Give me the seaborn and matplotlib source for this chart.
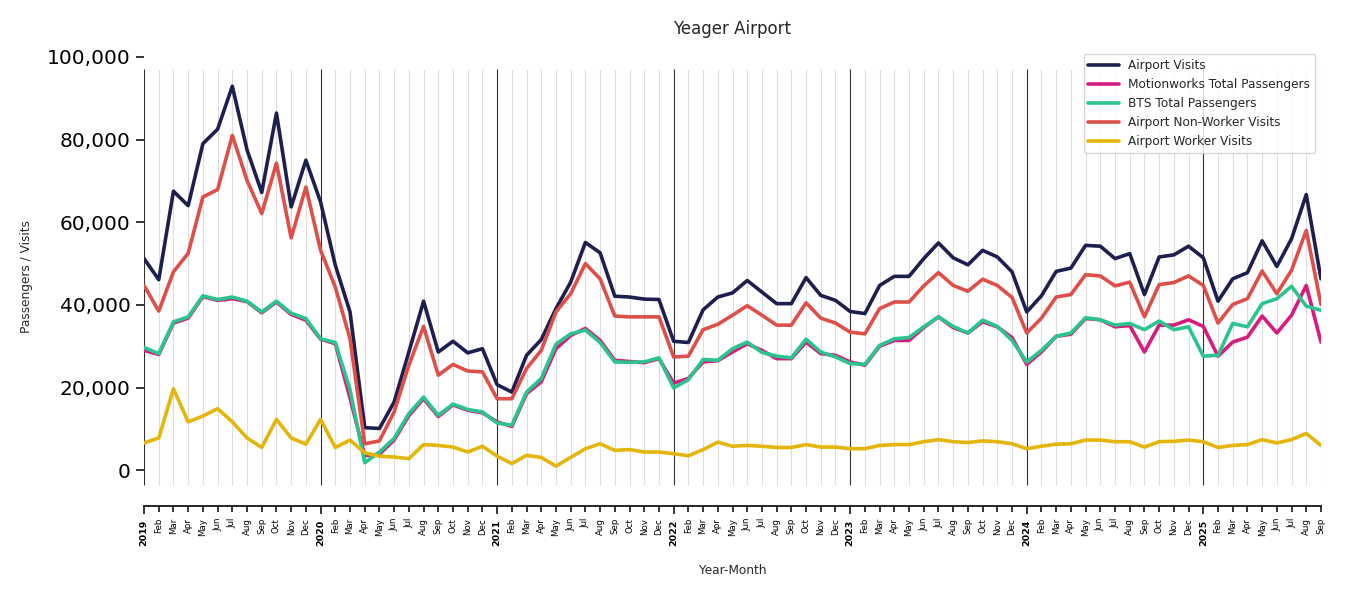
import pandas as pd
import matplotlib.pyplot as plt
import seaborn as sns
from matplotlib.ticker import FuncFormatter

sns.set_style("ticks")
plt.rcParams["font.family"] = ["DejaVu Sans"]

# 月份 (2019-01 .. 2025-09)
months = pd.date_range("2019-01-01", "2025-09-01", freq="MS")

airport_visits = [
    51200, 46100, 67500, 64000, 79000, 82500, 92900, 77500, 67200, 86400, 63700, 75000,
    64900, 49600, 38300, 10300, 10100, 16500, 28600, 40900, 28600, 31200, 28400, 29400,
    20700, 18900, 27800, 31600, 39100, 45500, 55100, 52600, 42100, 41900, 41400, 41300,
    31200, 30900, 38800, 41900, 42900, 45900, 43100, 40300, 40300, 46600, 42300, 41100,
    38400, 37900, 44700, 46900, 46900, 51200, 55000, 51400, 49700, 53200, 51600, 48000,
    38300, 42200, 48100, 48900, 54400, 54200, 51200, 52400, 42500, 51600, 52100, 54200,
    51400, 40900, 46300, 47800, 55500, 49300, 56000, 66700, 46300,
]
motionworks = [
    29000, 28000, 35600, 36800, 42000, 41100, 41500, 40800, 38100, 40700, 37700, 36300,
    31700, 30600, 17500, 3500, 3900, 7300, 13200, 17300, 13000, 15800, 14500, 13900,
    11700, 10600, 18500, 21400, 29400, 32600, 34300, 31400, 26600, 26300, 26000, 27000,
    21100, 22200, 26200, 26500, 28600, 30600, 29000, 27000, 27000, 31000, 28200, 27800,
    26200, 25400, 30000, 31400, 31400, 34500, 37100, 34500, 33200, 35900, 34700, 32100,
    25600, 28600, 32400, 32900, 36700, 36400, 34700, 35000, 28600, 35100, 35100, 36400,
    34800, 27600, 31000, 32200, 37300, 33200, 37500, 44700, 31000,
]
bts = [
    29700, 28200, 35900, 37100, 42200, 41300, 41900, 40900, 38300, 40900, 38000, 36700,
    31800, 30900, 19500, 1800, 4400, 7700, 13700, 17700, 13300, 16000, 14700, 14100,
    11400, 10900, 18900, 22200, 30500, 33000, 33900, 30900, 26200, 26100, 26200, 27200,
    19900, 21900, 26800, 26600, 29400, 31000, 28500, 27600, 27200, 31700, 28600, 27400,
    25800, 25600, 30200, 31800, 32100, 34700, 37100, 34800, 33200, 36300, 34800, 31400,
    26200, 29000, 32400, 33200, 36900, 36400, 35100, 35500, 34000, 36100, 34000, 34700,
    27600, 27800, 35500, 34700, 40300, 41500, 44500, 39700, 38700,
]
non_worker = [
    44700, 38500, 48000, 52500, 66100, 67900, 81000, 70100, 62100, 74300, 56200, 68500,
    53200, 44300, 31800, 6400, 7100, 14100, 25400, 34800, 23000, 25600, 24000, 23800,
    17300, 17300, 24600, 29000, 38300, 42700, 50000, 46300, 37300, 37100, 37100, 37100,
    27400, 27600, 34000, 35300, 37500, 39800, 37500, 35100, 35100, 40500, 36800, 35600,
    33400, 33000, 39100, 40700, 40700, 44600, 47800, 44700, 43300, 46200, 44700, 41800,
    33200, 36800, 41900, 42500, 47300, 47000, 44600, 45500, 37100, 44900, 45400, 47000,
    44700, 35600, 40100, 41500, 48200, 42700, 48400, 58000, 40100,
]
worker = [
    6600, 7800, 19700, 11700, 13100, 14900, 11700, 7800, 5500, 12300, 7800, 6300,
    12300, 5500, 7300, 4200, 3400, 3200, 2800, 6200, 6000, 5600, 4400, 5800,
    3400, 1600, 3600, 3100, 1000, 3100, 5200, 6400, 4800, 5000, 4400, 4400,
    4000, 3500, 5000, 6800, 5800, 6000, 5800, 5500, 5500, 6200, 5600, 5600,
    5200, 5200, 6000, 6200, 6200, 6900, 7400, 6900, 6700, 7100, 6900, 6400,
    5200, 5800, 6300, 6400, 7300, 7300, 6900, 6900, 5600, 6900, 7000, 7300,
    6900, 5500, 6000, 6200, 7400, 6600, 7400, 8900, 6000,
]

series_names = ["Airport Visits", "Motionworks Total Passengers", "BTS Total Passengers",
                "Airport Non-Worker Visits", "Airport Worker Visits"]
series_colors = ["#1e1f4e", "#d81b7f", "#2ac48e", "#df4f4a", "#e4b50a"]


def main():
    idx = list(range(len(months)))
    frames = []
    for name, vals in zip(series_names, [airport_visits, motionworks, bts, non_worker, worker]):
        frames.append(pd.DataFrame({"idx": idx, "value": vals, "series": name}))
    df = pd.concat(frames, ignore_index=True)

    fig, ax = plt.subplots(figsize=(13.5, 6), dpi=100)
    fig.subplots_adjust(left=0.1067, right=0.9785, bottom=0.1567, top=0.92)

    # 月份竖线 + 年份竖线
    jan_idx = [i for i, m in enumerate(months) if m.month == 1]
    other_idx = [i for i, m in enumerate(months) if m.month != 1]
    ax.vlines(other_idx, -3600, 97100, color="#dddddd", lw=0.8, zorder=0)
    ax.vlines(jan_idx, -3600, 97100, color="#333333", lw=0.8, zorder=0.5)

    sns.lineplot(data=df, x="idx", y="value", hue="series", hue_order=series_names,
                 palette=series_colors, linewidth=2.6, ax=ax)

    ax.set_xlim(0, len(months) - 1)
    ax.set_ylim(-8650, 102150)
    ax.set_yticks(range(0, 100001, 20000))
    ax.yaxis.set_major_formatter(FuncFormatter(lambda v, p: f"{v:,.0f}"))
    ax.tick_params(axis="y", labelsize=14.5, length=6, width=1.3, labelcolor="black")

    ax.set_xticks(jan_idx)
    ax.set_xticklabels([str(months[i].year) for i in jan_idx], rotation=90,
                       fontsize=6.8, fontweight="bold")
    ax.set_xticks(other_idx, minor=True)
    ax.set_xticklabels([months[i].strftime("%b") for i in other_idx], minor=True,
                       rotation=90, fontsize=6.2)
    ax.tick_params(axis="x", which="major", length=6, width=1.3, pad=4, labelcolor="black")
    ax.tick_params(axis="x", which="minor", length=4.5, width=1.3, pad=4, labelcolor="black")

    for s in ["top", "right", "left"]:
        ax.spines[s].set_visible(False)
    ax.spines["bottom"].set_linewidth(1.4)

    ax.set_title("Yeager Airport", fontsize=12, pad=10)
    ax.set_ylabel("Passengers / Visits", fontsize=8.7, labelpad=10)
    ax.set_xlabel("Year-Month", fontsize=8.7)
    ax.xaxis.set_label_coords(0.5, -0.127)

    handles, labels = ax.get_legend_handles_labels()
    ax.legend(handles, labels, loc="upper right", fontsize=8.7, handlelength=2.5)

    plt.savefig("out.png", dpi=100)
    plt.close()


if __name__ == "__main__":
    main()
